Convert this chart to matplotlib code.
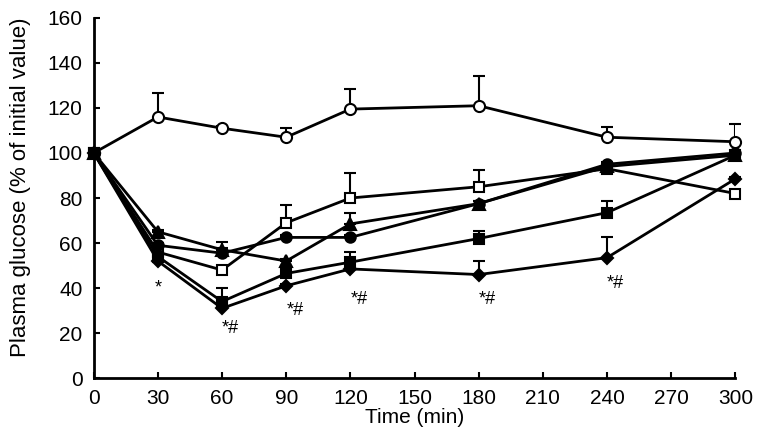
import numpy as np
import matplotlib.pyplot as plt

plt.rcParams['font.family'] = ['Liberation Sans', 'DejaVu Sans']

# -----------------------
# Data
# -----------------------
time = [0, 30, 60, 90, 120, 180, 240, 300]

open_circle = [100, 116, 111, 107, 119.5, 121, 107, 105]
open_circle_err = [0, 10.5, 1, 4, 9, 13, 4.5, 8]

open_square = [100, 56, 48, 69, 80, 85, 93, 82]
open_square_err = [0, 1, 1, 8, 11, 7.5, 1, 1]

triangle = [100, 65, 57, 52, 68.5, 77.5, 94, 99]
triangle_err = [0, 1, 1, 1, 5, 1, 1, 1]

filled_circle = [100, 59, 55.5, 62.5, 62.5, 77.5, 95, 100]
filled_circle_err = [0, 1, 5, 1, 1, 1, 1, 1]

filled_square = [100, 54, 34, 46.5, 51.5, 62, 73.5, 99]
filled_square_err = [0, 1, 6, 1, 4.5, 3.5, 5, 1]

diamond = [100, 52, 31, 41, 48.5, 46, 53.5, 88.5]
diamond_err = [0, 1, 1, 1, 1, 6, 9, 1]

sig_x = [30, 60, 90, 120, 180, 240]
sig_y = [40, 22, 30, 35, 35, 42]
sig_labels = ["*", "*#", "*#", "*#", "*#", "*#"]

# -----------------------
# Plot
# -----------------------
fig = plt.figure(figsize=(7.62, 4.48), dpi=100)
ax = fig.add_axes([0.123, 0.156, 0.842, 0.804])

series = [
    (open_circle, open_circle_err, "o", "white", 8),
    (open_square, open_square_err, "s", "white", 7.5),
    (triangle, triangle_err, "^", "black", 8),
    (filled_circle, filled_circle_err, "o", "black", 7.5),
    (filled_square, filled_square_err, "s", "black", 7),
    (diamond, diamond_err, "D", "black", 6.5),
]

for vals, err, marker, face, ms in series:
    yerr = [np.zeros(len(err)), np.array(err)]
    ax.errorbar(time, vals, yerr=yerr, color="black", lw=2, marker=marker,
                markerfacecolor=face, markeredgecolor="black", markeredgewidth=1.5,
                markersize=ms, capsize=4, capthick=1.5, elinewidth=1.5)

for x, y, s in zip(sig_x, sig_y, sig_labels):
    ax.text(x, y, s, ha="left" if len(s) > 1 else "center", va="center",
            fontsize=13)

ax.set_xlim(0, 300)
ax.set_ylim(0, 160)
ax.set_xticks(np.arange(0, 301, 30))
ax.set_yticks(np.arange(0, 161, 20))
ax.spines["top"].set_visible(False)
ax.spines["right"].set_visible(False)
ax.spines["left"].set_linewidth(2)
ax.spines["bottom"].set_linewidth(2)
ax.tick_params(direction="in", length=4, width=1.5, labelsize=15, pad=8)
ax.set_xlabel("Time (min)", fontsize=15, labelpad=0)
ax.set_ylabel("Plasma glucose (% of initial value)", fontsize=16)
ax.yaxis.set_label_coords(-0.098, 0.53)

for line in ax.get_lines():
    line.set_clip_on(False)

fig.savefig("out.png", dpi=100)
